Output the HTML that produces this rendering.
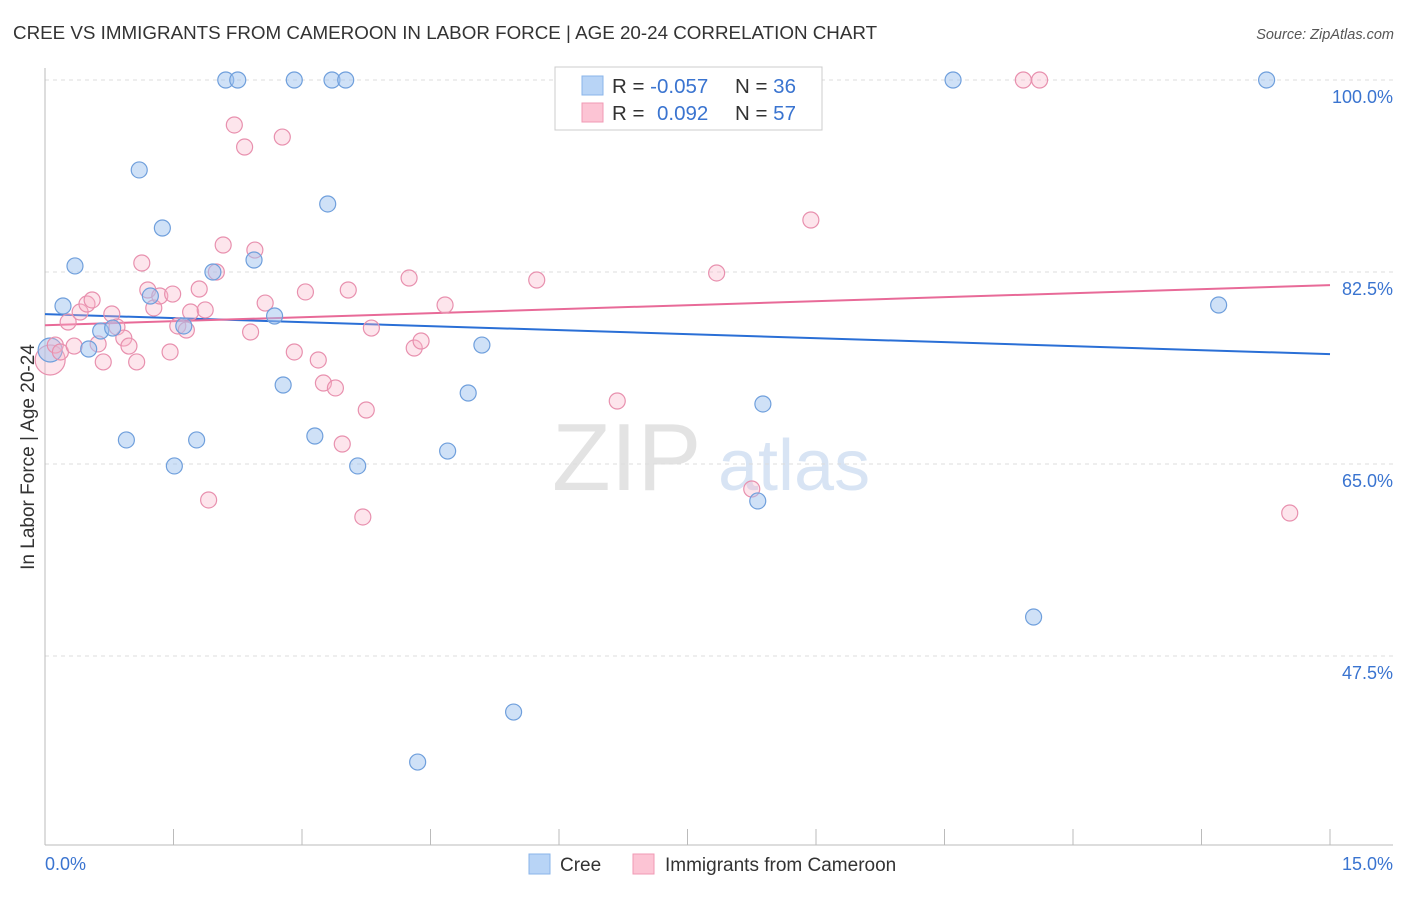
<!DOCTYPE html>
<html><head><meta charset="utf-8">
<style>
body{margin:0;background:#fff;font-family:"Liberation Sans",sans-serif;}
svg text{font-family:"Liberation Sans",sans-serif;}
</style></head>
<body>
<svg id="chart" width="1406" height="892" xmlns="http://www.w3.org/2000/svg">
<text x="13" y="39" font-size="18.8" fill="#333">CREE VS IMMIGRANTS FROM CAMEROON IN LABOR FORCE | AGE 20-24 CORRELATION CHART</text>
<text x="1394" y="39" font-size="14.5" fill="#555" text-anchor="end" font-style="italic">Source: ZipAtlas.com</text>
<text x="552" y="490" font-size="96" fill="#ddd" font-family="Liberation Serif" opacity="0.8">ZIP</text>
<text x="718" y="490" font-size="72" fill="#c8daf0" opacity="0.7">atlas</text>
<text transform="translate(34,457) rotate(-90)" font-size="19" fill="#333" text-anchor="middle">In Labor Force | Age 20-24</text>
<g id="grid"></g><g id="axes"></g><g id="trend"></g><g id="pts"></g>
<g>
<rect x="555" y="67" width="267" height="63" fill="#fff" stroke="#ccc"/>
<rect x="582" y="76" width="21" height="19" fill="#b8d4f6" stroke="#8ab4ea"/>
<rect x="582" y="103" width="21" height="19" fill="#fcc4d4" stroke="#f09ab4"/>
<text x="612" y="93" font-size="20.5" fill="#333">R = <tspan fill="#3a74d0">-0.057</tspan></text>
<text x="735" y="93" font-size="20.5" fill="#333">N = <tspan fill="#3a74d0">36</tspan></text>
<text x="612" y="120" font-size="20.5" fill="#333">R = </text>
<text x="657" y="120" font-size="20.5" fill="#3a74d0">0.092</text>
<text x="735" y="120" font-size="20.5" fill="#333">N = <tspan fill="#3a74d0">57</tspan></text>
</g>
<g>
<rect x="529" y="854" width="21" height="20" fill="#b8d4f6" stroke="#8ab4ea"/>
<text x="560" y="871" font-size="19" fill="#333">Cree</text>
<rect x="633" y="854" width="21" height="20" fill="#fcc4d4" stroke="#f09ab4"/>
<text x="665" y="871" font-size="19" fill="#333">Immigrants from Cameroon</text>
</g>
</svg>
<script>
const yTicks=[100,82.5,65,47.5];
const yTickLabels=["100.0%","82.5%","65.0%","47.5%"];
const xTickLabels=["0.0%","15.0%"];
const creeX=[0.21,0.35,0.51,0.65,0.79,0.95,1.10,1.23,1.37,1.51,1.62,1.77,1.96,2.11,2.25,2.44,2.68,2.78,2.91,3.15,3.30,3.35,3.51,3.65,4.70,4.94,5.10,5.47,4.35,8.38,8.32,10.60,11.54,13.70,14.26];
const creeY=[79.40,83.05,75.48,77.12,77.39,67.19,91.80,80.31,86.51,64.82,77.58,67.19,82.50,100,100,83.59,78.49,72.20,100,67.55,88.70,100,100,64.82,66.18,71.47,75.84,42.39,37.83,70.47,61.63,100,51.05,79.49,100];
const camX=[0.12,0.18,0.27,0.34,0.41,0.49,0.55,0.62,0.68,0.78,0.84,0.92,0.98,1.07,1.13,1.20,1.27,1.34,1.46,1.49,1.55,1.65,1.70,1.80,1.87,1.91,2.00,2.08,2.21,2.33,2.40,2.45,2.57,2.77,2.91,3.04,3.19,3.25,3.39,3.47,3.54,3.71,3.75,3.81,4.25,4.31,4.39,4.67,5.74,6.68,7.84,8.25,8.94,11.42,11.61,14.53];
const camY=[75.84,75.21,77.94,75.75,78.85,79.58,79.95,75.94,74.30,78.67,77.49,76.48,75.75,74.30,83.32,80.86,79.22,80.31,75.21,80.49,77.58,77.21,78.85,80.95,79.04,61.72,82.50,84.96,95.90,93.89,77.03,84.50,79.67,94.80,75.21,80.68,74.48,72.38,71.93,66.82,80.86,60.17,69.92,77.39,81.95,75.57,76.21,79.49,81.77,70.74,82.41,62.72,87.24,100,100,60.53];
const creeBig=[0.06,75.39], camBig=[0.06,74.48];
const creeTrend=[78.66,75.01], camTrend=[77.65,81.3];
const NS="http://www.w3.org/2000/svg";
const X=v=>45+v/15*1285, Y=v=>80+(100-v)*10.971;
function mk(p,t,a){const e=document.createElementNS(NS,t);for(const k in a)e.setAttribute(k,a[k]);document.getElementById(p).appendChild(e);return e;}
yTicks.forEach((t,i)=>{
 let l=mk('grid','line',{x1:45,x2:1393,y1:Y(t),y2:Y(t),stroke:'#ddd','stroke-dasharray':'4,4'});
 
 
 let tx=mk('grid','text',{x:1393,y:Y(t)+23,'font-size':18,fill:'#3a74d0','text-anchor':'end'});
 tx.textContent=yTickLabels[i];
 
 
});
let ax=mk('axes','line',{x1:45,x2:45,y1:68,y2:845,stroke:'#bbb'});


let bx=mk('axes','line',{x1:45,x2:1393,y1:845,y2:845,stroke:'#bbb'});


for(let i=0;i<=10;i++){
 let t=mk('axes','line',{x1:X(i*1.5),x2:X(i*1.5),y1:829,y2:845,stroke:'#bbb'});
 
 
}
[[0,'start',45],[15,'end',1393]].forEach((d,i)=>{
 let t=mk('axes','text',{x:d[2],y:870,'font-size':18,fill:'#3a74d0','text-anchor':d[1]});
 t.textContent=xTickLabels[i];
 
 
});
let bl=mk('trend','line',{x1:X(0),x2:X(15),y1:Y(creeTrend[0]),y2:Y(creeTrend[1]),stroke:'#2a6fd6','stroke-width':2});


let pl=mk('trend','line',{x1:X(0),x2:X(15),y1:Y(camTrend[0]),y2:Y(camTrend[1]),stroke:'#e86a98','stroke-width':2});


function dot(x,y,r,cree){
 let c=mk('pts','circle',{cx:X(x),cy:Y(y),r:r,fill:cree?'rgba(160,196,240,0.5)':'rgba(248,180,200,0.35)',stroke:cree?'#6f9fdc':'#e890ae','stroke-width':1.2});
 
 
}
dot(camBig[0],camBig[1],15,false);
dot(creeBig[0],creeBig[1],12,true);
camX.forEach((x,i)=>dot(x,camY[i],8,false));
creeX.forEach((x,i)=>dot(x,creeY[i],8,true));
</script>
</body></html>
